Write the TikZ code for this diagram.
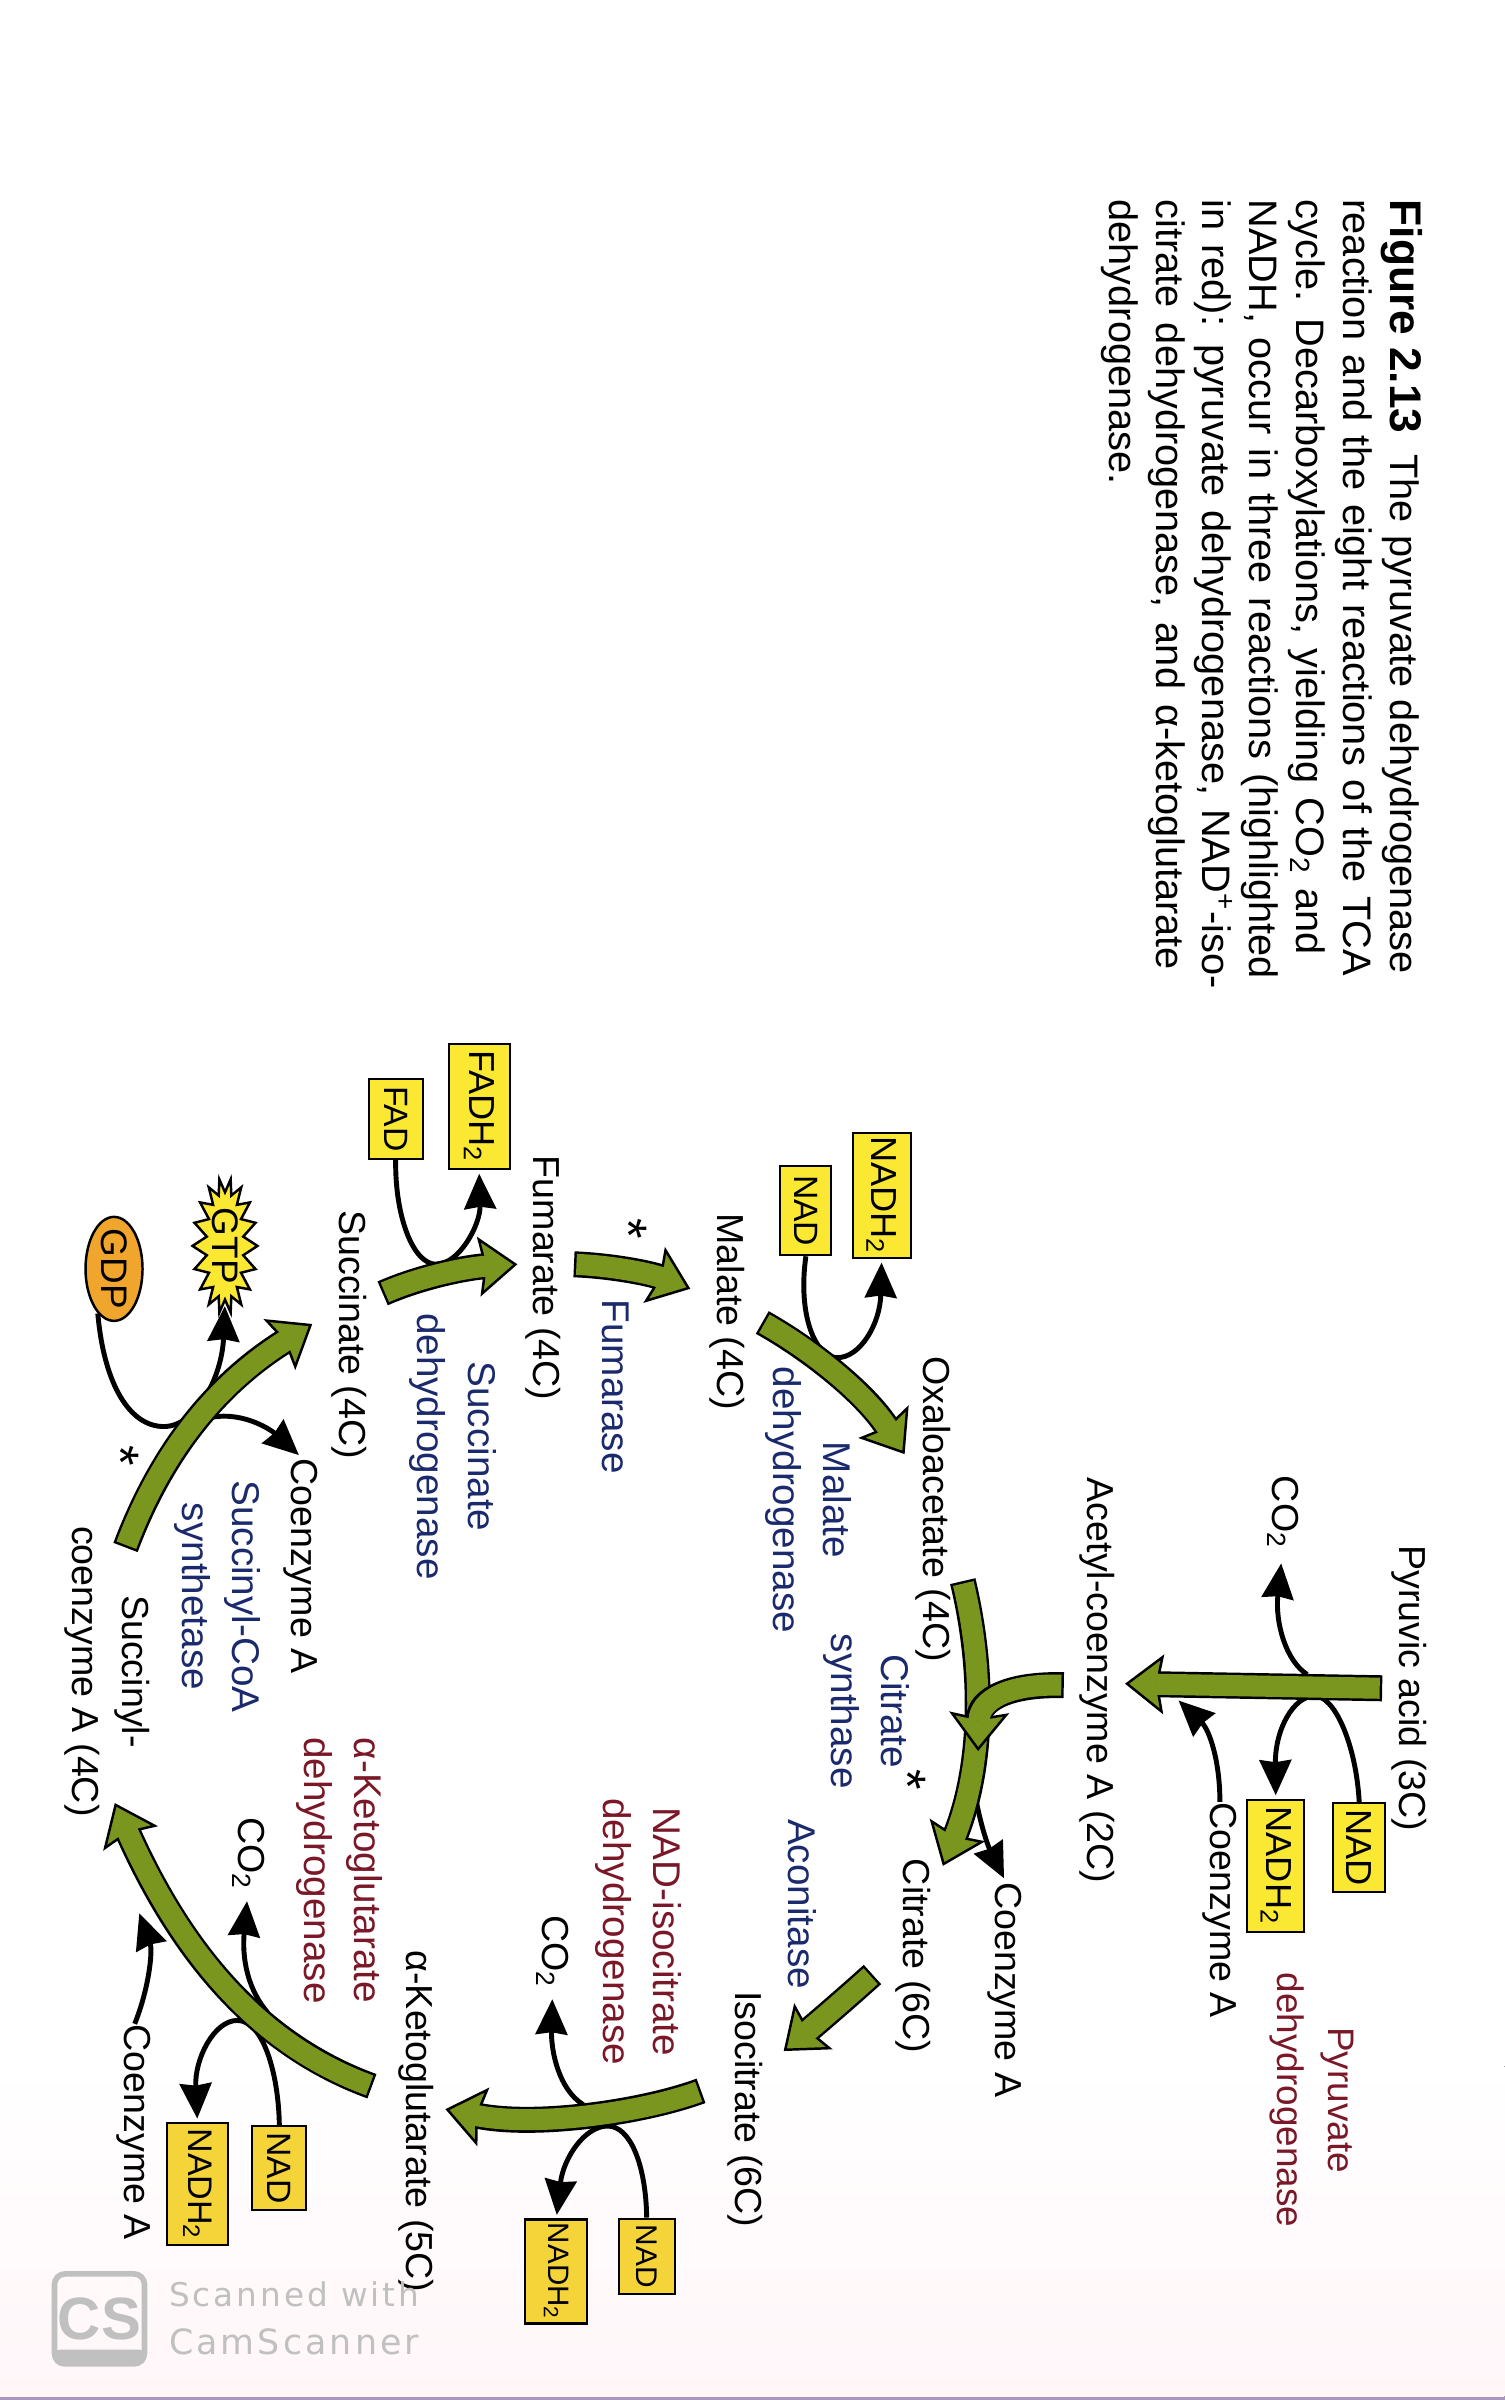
\documentclass[tikz,border=0pt]{standalone}
\usepackage{fontspec}
\setmainfont{Liberation Sans}
\newfontfamily\csfont[LetterSpace=9]{DejaVu Sans}
\usetikzlibrary{arrows.meta,shapes.geometric,shapes.symbols}
\definecolor{tca_green}{RGB}{122,150,30}
\definecolor{tca_yellow}{RGB}{250,232,50}
\definecolor{tca_gold}{RGB}{244,212,56}
\definecolor{tca_orange}{RGB}{240,165,45}
\definecolor{tca_navy}{RGB}{26,42,108}
\definecolor{tca_maroon}{RGB}{122,24,40}
\definecolor{tca_gray}{RGB}{192,192,192}
\definecolor{tca_pink}{RGB}{255,246,248}
\definecolor{tca_edge}{RGB}{168,150,190}
\tikzset{
    metab/.style={rotate=-90,inner sep=0pt,font=\fontsize{10.7}{14.3}\selectfont,text height=7.6pt,text depth=2pt},
    enzyme/.style={rotate=-90,inner sep=0pt,font=\fontsize{11}{14.3}\selectfont,align=center},
    cofactor/.style={rotate=-90,shape=rectangle,draw,line width=.6pt,fill=tca_yellow,inner sep=0pt,font=\fontsize{10.3}{12}\selectfont},
    mark_star/.style={rotate=-90,inner sep=0pt,font=\fontsize{15}{15}\selectfont},
    thin_arrow/.style={draw=black,line width=1.4pt,-{Stealth[length=10pt,width=9pt,inset=.6pt]}},
    flow_outer/.style={draw=black,line width=7.4pt,-{Stealth[length=11pt,width=17pt,inset=1.6pt,fill=tca_green,color=black,line width=.7pt]}},
    flow_inner/.style={draw=tca_green,line width=6pt,shorten >=8.6pt,shorten <=.7pt}
}
\newcommand{\flowarrow}[1]{\draw[flow_outer] #1;\draw[flow_inner] #1;}
\begin{document}
\begin{tikzpicture}[x=.0153cm,y=-.0153cm]
    \useasboundingbox (0,0) rectangle (983,1568);
    \fill[white] (0,0) rectangle (983,1568);
    \fill[top color=white,bottom color=tca_pink,draw=none] (0,1350) rectangle (983,1566);
    \fill[tca_edge] (0,1566) rectangle (983,1568);
    % caption
    \node[rotate=-90,anchor=north west,inner sep=0pt,align=left,font=\fontsize{11.3}{13.35}\selectfont] (caption) at (930,130)
        {{\spaceskip=3.5pt\fontsize{12.6}{13.35}\selectfont\textbf{Figure 2.13}\hspace{6pt}\fontsize{11.3}{13.35}\selectfont The pyruvate dehydrogenase}\\
         \spaceskip=4pt reaction and the eight reactions of the TCA\\
         \spaceskip=4pt cycle. Decarboxylations, yielding CO\textsubscript{2} and\\
         \spaceskip=4pt NADH, occur in three reactions (highlighted\\
         \spaceskip=4pt in red): pyruvate dehydrogenase, NAD\textsuperscript{+}-iso-\\
         \spaceskip=4.3pt citrate dehydrogenase, and α-ketoglutarate\\
         dehydrogenase.};
    % metabolites
    \node[metab] (pyruvic)    at (921,1103) {Pyruvic acid (3C)};
    \node[metab] (acetyl)     at (717,1098) {Acetyl-coenzyme A (2C)};
    \node[metab] (oxalo)      at (610,986)  {Oxaloacetate (4C)};
    \node[metab] (citrate)    at (597,1278) {Citrate (6C)};
    \node[metab] (isocitrate) at (487,1378) {Isocitrate (6C)};
    \node[metab] (ketoglut)   at (272,1386) {α-Ketoglutarate (5C)};
    \node[metab,text height=,text depth=,align=center] (succoa) at (70,1092) {Succinyl-\\coenzyme A (4C)};
    \node[metab] (succinate)  at (228,872)  {Succinate (4C)};
    \node[metab] (fumarate)   at (355,835)  {Fumarate (4C)};
    \node[metab] (malate)     at (475,857)  {Malate (4C)};
    \node[metab] (coa_pdh)    at (797,1248) {Coenzyme A};
    \node[metab] (coa_cs)     at (657,1300) {Coenzyme A};
    \node[metab] (coa_kg)     at (88,1393)  {Coenzyme A};
    \node[metab] (coa_scs)    at (197,1023) {Coenzyme A};
    \node[metab] (co2_pdh)    at (838,988)  {CO\textsubscript{2}};
    \node[metab] (co2_idh)    at (361,1275) {CO\textsubscript{2}};
    \node[metab] (co2_kg)     at (162,1211) {CO\textsubscript{2}};
    % enzymes
    \node[enzyme,text=tca_maroon,font=\fontsize{10.5}{14.3}\selectfont] (pdh) at (857,1372) {Pyruvate\\dehydrogenase};
    \node[enzyme,text=tca_navy] (cs)    at (566,1118) {Citrate\\synthase};
    \node[enzyme,text=tca_navy] (acon)  at (524,1244) {Aconitase};
    \node[enzyme,text=tca_maroon] (idh) at (417,1262) {NAD-isocitrate\\dehydrogenase};
    \node[enzyme,text=tca_maroon] (kgdh) at (222,1222) {α-Ketoglutarate\\dehydrogenase};
    \node[enzyme,text=tca_navy] (scs)   at (142,1043) {Succinyl-CoA\\synthetase};
    \node[enzyme,text=tca_navy] (sdh)   at (296,945)  {Succinate\\dehydrogenase};
    \node[enzyme,text=tca_navy] (fum)   at (402,906)  {Fumarase};
    \node[enzyme,text=tca_navy] (mdh)   at (528,980)  {Malate\\dehydrogenase};
    \node[mark_star] (star_cs)  at (593,1163) {*};
    \node[mark_star] (star_fum) at (411,803)  {*};
    \node[mark_star] (star_scs) at (79,951)   {*};
    % cofactors
    \node[cofactor,minimum width=.89cm,minimum height=.52cm]  (nad_pdh)   at (888,1207)   {NAD};
    \node[cofactor,minimum width=1.32cm,minimum height=.57cm] (nadh_pdh)  at (833.5,1219) {NADH\textsubscript{2}};
    \node[cofactor,fill=tca_gold,font=\fontsize{8.5}{10}\selectfont,minimum width=.75cm,minimum height=.56cm] (nad_idh)  at (422.5,1474) {NAD};
    \node[cofactor,fill=tca_gold,font=\fontsize{8.4}{10}\selectfont,minimum width=1.04cm,minimum height=.62cm] (nadh_idh) at (363.5,1484) {NADH\textsubscript{2}};
    \node[cofactor,fill=tca_gold,font=\fontsize{9.6}{10}\selectfont,minimum width=.84cm,minimum height=.54cm] (nad_kg)   at (182.5,1416.5) {NAD};
    \node[cofactor,fill=tca_gold,font=\fontsize{9.7}{10}\selectfont,minimum width=1.22cm,minimum height=.61cm] (nadh_kg)  at (129,1427) {NADH\textsubscript{2}};
    \node[cofactor,font=\fontsize{9.6}{10}\selectfont,minimum width=.89cm,minimum height=.51cm]  (nad_mdh)   at (526.5,791)  {NAD};
    \node[cofactor,minimum width=1.25cm,minimum height=.58cm] (nadh_mdh)  at (576,781)    {NADH\textsubscript{2}};
    \node[cofactor,font=\fontsize{9.6}{10}\selectfont,minimum width=.8cm,minimum height=.54cm]   (fad)       at (258.5,731)  {FAD};
    \node[cofactor,minimum width=1.25cm,minimum height=.61cm] (fadh)      at (313,723)    {FADH\textsubscript{2}};
    \node[rotate=-90,shape=starburst,starburst points=18,starburst point height=.14cm,random starburst=0,draw,line width=.7pt,fill=tca_yellow,minimum width=1.3cm,minimum height=.64cm,inner sep=0pt,font=\fontsize{10.5}{12}\selectfont] (gtp) at (147,814) {GTP};
    \node[rotate=-90,shape=ellipse,draw,line width=.7pt,fill=tca_orange,minimum width=1.04cm,minimum height=.57cm,inner sep=-2pt,font=\fontsize{10.5}{12}\selectfont] (gdp) at (74.5,829) {GDP};
    % free ends of the connectors
    \coordinate (pdh_co2) at (854,1094);
    \coordinate (pdh_coa) at (770,1111);
    \coordinate (cs_coa) at (637,1172);
    \coordinate (idh_co2) at (381,1375);
    \coordinate (kg_co2) at (175,1315);
    \coordinate (kg_coa) at (91,1250);
    \coordinate (scs_coa) at (138,926);
    \coordinate (pyr_out) at (903,1103);
    \coordinate (acetyl_in) at (735,1100);
    \coordinate (acetyl_out) at (695,1101);
    \coordinate (cs_join) at (639,1144);
    \coordinate (oxalo_out) at (629,1033);
    \coordinate (citrate_in) at (616,1219);
    \coordinate (citrate_out) at (570,1290);
    \coordinate (iso_in) at (512,1340);
    \coordinate (iso_out) at (458,1366);
    \coordinate (kg_in) at (291,1378);
    \coordinate (kg_out) at (243,1363);
    \coordinate (succoa_in) at (75,1178);
    \coordinate (succoa_out) at (82,1011);
    \coordinate (succ_in) at (204,865);
    \coordinate (succ_out) at (250,845);
    \coordinate (fum_in) at (338,826);
    \coordinate (fum_out) at (375,826);
    \coordinate (mal_in) at (451,842);
    \coordinate (mal_out) at (498,864);
    \coordinate (oxalo_in) at (591,950);
    % side reactions
    \draw[thin_arrow,shorten >=1pt] (nad_pdh.west) .. controls (886,1140) and (872,1108) .. (859,1108) .. controls (845,1108) and (833,1130) .. (nadh_pdh.west);
    \draw[thin_arrow,shorten >=4pt] (pdh_co2) .. controls (840,1085) and (833,1060) .. (co2_pdh.east);
    \draw[thin_arrow] (coa_pdh.west) .. controls (797,1150) and (790,1130) .. (pdh_coa);
    \draw[thin_arrow,shorten >=1pt] (cs_coa) .. controls (640,1190) and (645,1205) .. (coa_cs.west);
    \draw[thin_arrow,shorten >=1pt] (nad_idh.west) .. controls (422,1415) and (412,1389) .. (397,1389) .. controls (382,1389) and (368,1410) .. (nadh_idh.west);
    \draw[thin_arrow,shorten >=3pt] (idh_co2) .. controls (365,1365) and (360,1340) .. (co2_idh.east);
    \draw[thin_arrow,shorten >=1pt] (nad_kg.west) .. controls (182,1355) and (172,1320) .. (155,1320) .. controls (140,1320) and (127,1345) .. (nadh_kg.west);
    \draw[thin_arrow,shorten >=3pt] (kg_co2) .. controls (162,1300) and (158,1280) .. (co2_kg.east);
    \draw[thin_arrow] (coa_kg.west) .. controls (97,1300) and (100,1275) .. (kg_coa);
    \draw[thin_arrow,shorten >=1pt] (gdp.-20) .. controls (68,905) and (85,932) .. (107,932) .. controls (128,932) and (145,900) .. (gtp.east);
    \draw[thin_arrow,shorten >=1pt] (scs_coa) .. controls (160,922) and (178,935) .. (coa_scs.west);
    \draw[thin_arrow,shorten >=1pt] (fad.east) .. controls (258,795) and (270,826) .. (285,826) .. controls (300,826) and (314,800) .. (fadh.east);
    \draw[thin_arrow,shorten >=1pt] (nad_mdh.east) .. controls (521,860) and (533,887) .. (547,887) .. controls (562,887) and (575,865) .. (nadh_mdh.east);
    % cycle
    \flowarrow{(pyr_out) -- (acetyl_in)}
    \flowarrow{(oxalo_out) .. controls (645,1100) and (640,1160) .. (citrate_in)}
    \flowarrow{(acetyl_out) .. controls (660,1100) and (640,1110) .. (cs_join)}
    \flowarrow{(citrate_out) .. controls (550,1308) and (530,1325) .. (iso_in)}
    \flowarrow{(iso_out) .. controls (420,1380) and (350,1390) .. (kg_in)}
    \flowarrow{(kg_out) .. controls (180,1340) and (125,1290) .. (succoa_in)}
    \flowarrow{(succoa_out) .. controls (105,950) and (140,905) .. (succ_in)}
    \flowarrow{(succ_out) .. controls (275,834) and (305,828) .. (fum_in)}
    \flowarrow{(fum_out) .. controls (400,827) and (425,832) .. (mal_in)}
    \flowarrow{(mal_out) .. controls (530,882) and (565,910) .. (oxalo_in)}
    % scanner mark
    \node[shape=rectangle,draw=tca_gray,line width=1.6pt,rounded corners=3pt,minimum width=.9cm,minimum height=.9cm,inner sep=0pt,text=tca_gray,font=\fontsize{17}{17}\selectfont\bfseries] (cs_logo) at (65,1515) {CS};
    \fill[tca_gray,rounded corners=2pt] (35,1535) rectangle (95,1545);
    \node[anchor=west,inner sep=0pt,text=tca_gray,font=\fontsize{9.3}{10}\csfont] (cs_line_a) at (110,1499) {Scanned with};
    \node[anchor=west,inner sep=0pt,text=tca_gray,font=\fontsize{9.9}{10}\csfont] (cs_line_b) at (110,1530) {CamScanner};
\end{tikzpicture}
\end{document}
